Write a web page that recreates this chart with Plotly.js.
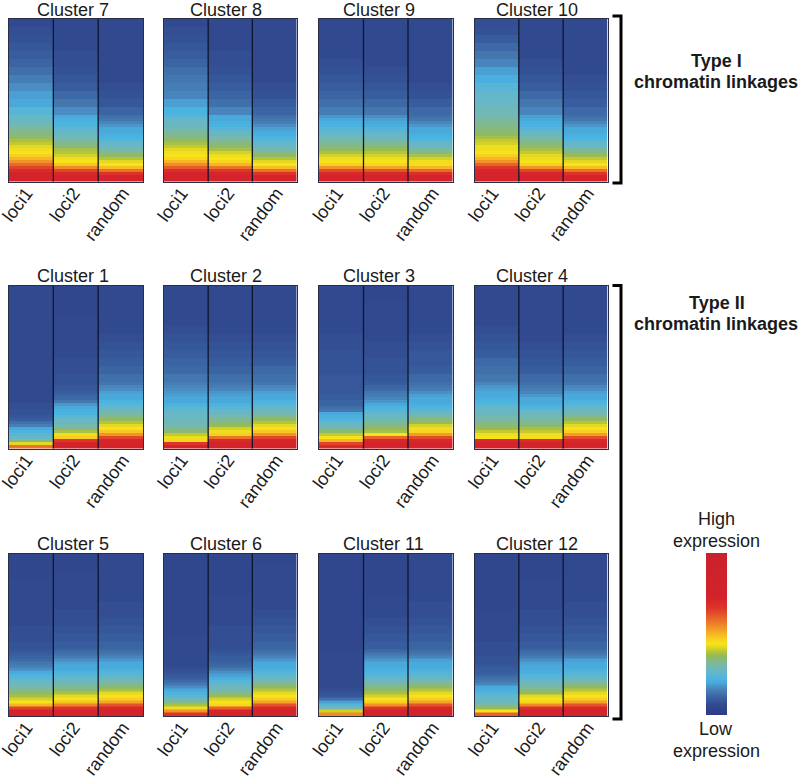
<!DOCTYPE html>
<html>
<head>
<meta charset="utf-8">
<script src="https://cdn.plot.ly/plotly-3.0.1.min.js"></script>
<style>
    html, body { margin: 0; padding: 0; background: #fff; }
</style>
</head>
<body>
<div id="plot" style="width:800px;height:780px;"></div>
<script>
const columnLabels = ["loci1", "loci2", "random"];

// rank of each row, top of the sorted list = 0, bands get thinner near the high end
const rankEdges = [0,8,16,24,32,40,48,56,64,72,80,88,96,99,102,105,108,111,114,117,120,123,126,129,132,135,138,141,144,147,150,153,156,159,162];

// expression level of every row (top to bottom)
const c7loci1 = [6,7,8,9,10,11,13,15,17,19,20,24,27,27,28,30,32,33,34,36,38,40,42,43,44,47,50,54,59,64,69,72,72,73];
const c7loci2 = [6,6,6,6,7,7,8,9,10,12,14,17,20,21,22,23,25,26,28,29,31,33,35,38,39,41,43,44,48,55,64,70,72,73];
const c7random = [6,6,6,6,6,6,6,6,7,8,9,11,13,14,16,18,20,20,21,22,24,26,28,30,33,36,39,42,44,49,58,67,72,73];

const c8loci1 = [6,7,8,9,10,11,13,14,15,16,19,22,25,26,27,28,29,31,33,34,36,38,40,42,43,44,46,50,55,61,68,72,72,73];
const c8loci2 = [6,6,6,6,7,7,8,9,10,11,13,16,20,20,21,22,24,26,28,30,32,34,36,38,41,43,44,46,50,58,66,71,72,73];
const c8random = [6,6,6,6,6,6,6,6,7,8,10,11,13,14,15,17,19,20,21,22,24,26,28,30,33,36,39,42,44,49,58,67,72,73];

const c9loci1 = [6,6,6,6,6,7,8,9,10,11,13,15,18,20,21,22,24,25,27,29,30,32,34,36,38,41,43,44,47,54,63,70,72,73];
const c9loci2 = [6,6,6,6,6,6,7,8,9,10,12,14,17,19,20,21,23,25,27,28,30,32,35,37,39,41,43,44,46,52,62,70,72,73];
const c9random = [6,6,6,6,6,6,6,6,7,8,10,12,13,14,16,18,20,20,21,22,24,26,28,31,34,38,41,43,45,50,59,68,72,73];

const c10loci1 = [7,8,10,12,14,16,19,21,24,26,27,29,30,31,32,33,34,35,36,38,40,41,43,43,44,47,50,54,60,66,71,72,73,73];
const c10loci2 = [6,6,6,6,6,7,8,9,10,12,14,16,19,20,21,22,24,26,28,30,32,34,36,38,40,42,43,44,47,54,64,71,72,73];
const c10random = [6,6,6,6,6,6,6,7,8,9,10,12,13,14,16,18,20,20,21,22,24,26,28,31,34,37,40,42,44,49,58,67,72,73];

const c1loci1 = [6,6,6,6,6,6,6,6,6,6,6,6,6,6,6,6,6,6,6,7,7,8,8,9,10,13,15,20,22,25,27,33,42,58];
const c1loci2 = [5,5,5,5,6,6,6,6,6,7,7,8,8,9,9,10,11,12,14,18,20,21,22,24,27,28,30,33,38,43,47,66,72,73];
const c1random = [6,6,6,6,6,6,7,8,9,10,11,13,14,16,17,19,20,20,22,24,26,28,31,33,36,39,42,44,48,54,64,71,72,73];

const c2loci1 = [6,6,6,6,6,7,8,9,10,11,12,14,15,16,17,18,19,20,20,22,24,26,27,27,28,29,30,32,35,40,43,46,66,72];
const c2loci2 = [6,6,6,6,6,6,7,8,9,10,11,13,14,15,16,18,19,20,20,22,24,26,28,30,32,34,37,41,43,47,58,69,72,73];
const c2random = [6,6,6,6,6,6,7,8,9,10,12,13,14,16,17,19,20,20,22,24,26,28,30,33,36,39,42,44,48,54,64,71,72,73];

const c3loci1 = [6,6,6,6,6,6,7,7,8,8,8,9,9,9,9,9,10,10,11,11,13,14,20,21,23,26,28,31,35,40,44,50,64,70];
const c3loci2 = [5,5,6,6,6,6,6,7,7,8,8,9,10,11,12,14,15,16,18,20,22,24,26,27,29,32,34,36,38,44,60,70,72,73];
const c3random = [6,6,6,6,6,6,7,8,9,9,10,12,13,14,15,17,19,20,20,21,23,25,28,31,34,37,41,43,46,53,63,70,72,73];

const c4loci1 = [6,6,6,6,6,7,8,9,10,12,13,14,16,18,19,20,20,21,22,24,26,27,28,29,31,33,35,37,40,43,44,69,72,73];
const c4loci2 = [6,6,6,6,6,6,6,7,8,9,10,12,13,14,15,16,18,20,20,21,23,26,28,29,31,32,35,38,40,43,45,68,72,73];
const c4random = [6,6,6,6,6,6,7,8,9,10,11,13,14,16,17,19,20,20,22,24,26,28,30,33,36,39,42,44,47,53,63,70,72,73];

const c5loci1 = [5,5,5,6,6,6,6,6,6,7,7,8,9,10,11,12,14,15,17,20,22,24,27,28,30,33,36,38,41,44,50,64,72,73];
const c5loci2 = [5,5,6,6,6,6,6,7,7,8,9,10,12,13,15,17,19,20,20,22,24,26,28,30,32,35,38,42,44,48,56,66,72,73];
const c5random = [6,6,6,6,6,6,7,7,8,9,10,11,13,14,16,18,20,20,21,23,25,27,30,32,35,38,42,44,47,52,62,70,72,73];

const c6loci1 = [5,5,5,5,5,5,5,5,5,5,6,6,6,6,6,6,6,6,7,8,9,10,12,14,17,20,22,25,28,33,38,43,54,66];
const c6loci2 = [5,5,5,5,5,6,6,6,6,7,7,7,8,9,10,10,11,12,14,17,19,21,24,26,28,30,33,37,41,44,46,60,71,73];
const c6random = [5,6,6,6,6,6,6,7,8,9,10,11,13,14,16,18,20,20,21,23,25,27,30,33,36,39,42,44,47,52,62,70,72,73];

const c11loci1 = [5,5,5,5,5,5,5,5,5,5,5,5,6,6,6,6,6,6,6,6,6,6,6,6,6,7,8,9,13,19,24,30,41,55];
const c11loci2 = [5,5,5,5,5,6,6,6,7,8,9,10,12,14,16,18,20,20,21,22,24,26,28,31,33,36,38,41,44,47,54,66,72,73];
const c11random = [6,6,6,6,6,6,7,7,8,9,10,11,13,14,16,19,20,20,21,23,25,27,30,33,36,39,42,44,47,52,62,70,72,73];

const c12loci1 = [5,5,5,5,5,5,5,6,6,6,6,7,7,7,8,8,8,9,10,10,11,13,14,16,20,21,23,26,27,28,31,37,44,60];
const c12loci2 = [5,5,5,6,6,6,6,7,7,8,9,10,12,13,15,17,19,20,20,21,23,25,27,29,31,34,37,42,44,46,55,68,72,73];
const c12random = [6,6,6,6,6,6,7,7,8,9,10,11,13,14,16,19,20,20,21,23,25,27,30,33,36,39,42,44,47,52,62,70,72,73];

const panels = [
    { name: "Cluster 7", cols: [c7loci1, c7loci2, c7random] },
    { name: "Cluster 8", cols: [c8loci1, c8loci2, c8random] },
    { name: "Cluster 9", cols: [c9loci1, c9loci2, c9random] },
    { name: "Cluster 10", cols: [c10loci1, c10loci2, c10random] },
    { name: "Cluster 1", cols: [c1loci1, c1loci2, c1random] },
    { name: "Cluster 2", cols: [c2loci1, c2loci2, c2random] },
    { name: "Cluster 3", cols: [c3loci1, c3loci2, c3random] },
    { name: "Cluster 4", cols: [c4loci1, c4loci2, c4random] },
    { name: "Cluster 5", cols: [c5loci1, c5loci2, c5random] },
    { name: "Cluster 6", cols: [c6loci1, c6loci2, c6random] },
    { name: "Cluster 11", cols: [c11loci1, c11loci2, c11random] },
    { name: "Cluster 12", cols: [c12loci1, c12loci2, c12random] }
];

const W = 800, H = 780;
const FONT = '"Liberation Sans", Arial, sans-serif';
const TEXT = "#1a1a1a";

// pixel boxes of the grid
const colBox = [[8.5, 143], [164, 296.5], [319, 452.5], [474.5, 607.5]];
const rowBox = [[19, 181.5], [286, 448.5], [553.5, 716]];
const titleLeft = [35, 188, 341, 494];
const titleMid = [10, 276, 544];

const px = (x) => x / W;
const py = (y) => 1 - y / H;

const expressionScale = [
    [0, "#2b3a8c"], [0.05, "#30478e"], [0.06, "#31498f"], [0.10, "#375d9e"], [0.14, "#4377ad"],
    [0.17, "#4a8cc3"], [0.20, "#4aa9db"], [0.22, "#4ab3e0"], [0.26, "#63b6cc"], [0.30, "#74b8ae"],
    [0.34, "#86b880"], [0.37, "#98bb52"], [0.40, "#c4ca2e"], [0.42, "#e4d822"], [0.44, "#f7e31a"],
    [0.47, "#f8cf20"], [0.52, "#f4a426"], [0.60, "#e8622a"], [0.66, "#dd3529"], [0.72, "#d4232a"],
    [1, "#c9222b"]
];

const data = [];
const layout = {
    width: W,
    height: H,
    margin: { l: 0, r: 0, t: 0, b: 0 },
    paper_bgcolor: "#fff",
    plot_bgcolor: "#fff",
    showlegend: false,
    font: { family: FONT, size: 18, color: TEXT },
    coloraxis: {
        cmin: 0,
        cmax: 100,
        colorscale: expressionScale,
        colorbar: {
            x: px(705.5), xanchor: "left", xpad: 0,
            y: py(715), yanchor: "bottom", ypad: 0,
            thickness: 21, thicknessmode: "pixels",
            len: 162, lenmode: "pixels",
            outlinewidth: 0, ticks: "", showticklabels: false
        }
    },
    annotations: [],
    shapes: []
};

function note(text, x, y, anchor, bold) {
    layout.annotations.push({
        text: bold ? "<b>" + text + "</b>" : text,
        xref: "paper", yref: "paper",
        x: px(x), y: py(y),
        xanchor: anchor, yanchor: "middle",
        showarrow: false,
        font: { family: FONT, size: 18, color: TEXT }
    });
}

panels.forEach((panel, i) => {
    const r = Math.floor(i / 4);
    const c = i % 4;
    const n = i === 0 ? "" : String(i + 1);

    // z is row by row, the lists above are column by column
    const z = panel.cols[0].map((_, row) => panel.cols.map((col) => col[row]));

    data.push({
        type: "heatmap",
        x: [0, 1, 2],
        y: rankEdges,
        z: z,
        coloraxis: "coloraxis",
        xaxis: "x" + n,
        yaxis: "y" + n,
        hoverinfo: "skip"
    });

    layout["xaxis" + n] = {
        domain: [px(colBox[c][0]), px(colBox[c][1])],
        anchor: "y" + n,
        range: [-0.5, 2.5],
        // nudged so the rotated labels end where they do in the figure
        tickvals: [-0.1, 0.95, 2.05],
        ticktext: columnLabels,
        tickangle: -53,
        ticks: "",
        ticklabelstandoff: -7,
        ticklabeloverflow: "allow",
        tickfont: { family: FONT, size: 18, color: TEXT },
        showgrid: false,
        zeroline: false,
        showline: true,
        mirror: true,
        linecolor: "#2b2f45",
        linewidth: 1
    };
    layout["yaxis" + n] = {
        domain: [py(rowBox[r][1]), py(rowBox[r][0])],
        anchor: "x" + n,
        range: [162, 0],
        showticklabels: false,
        ticks: "",
        showgrid: false,
        zeroline: false,
        showline: true,
        mirror: true,
        linecolor: "#2b2f45",
        linewidth: 1
    };

    [0.5, 1.5].forEach((sep) => {
        layout.shapes.push({
            type: "line",
            xref: "x" + n, yref: "y" + n + " domain",
            x0: sep, x1: sep, y0: 0, y1: 1,
            line: { color: "#10162e", width: 1.3 }
        });
    });

    note(panel.name, titleLeft[c], titleMid[r], "left", false);
});

// brackets on the right
function bracket(top, bottom) {
    layout.shapes.push({
        type: "path",
        xref: "paper", yref: "paper",
        path: "M" + px(612.5) + "," + py(top) + " L" + px(621) + "," + py(top) +
              " L" + px(621) + "," + py(bottom) + " L" + px(612.5) + "," + py(bottom),
        line: { color: "#000", width: 3 }
    });
}
bracket(16, 183);
bracket(285.5, 719);

note("Type I", 716.5, 61, "center", true);
note("chromatin linkages", 716, 82, "center", true);
note("Type II", 716.5, 303, "center", true);
note("chromatin linkages", 716, 324, "center", true);
note("High", 716, 519, "center", false);
note("expression", 716, 541, "center", false);
note("Low", 716, 729, "center", false);
note("expression", 716, 751, "center", false);

Plotly.newPlot("plot", data, layout, { displayModeBar: false, staticPlot: true });
</script>
</body>
</html>
